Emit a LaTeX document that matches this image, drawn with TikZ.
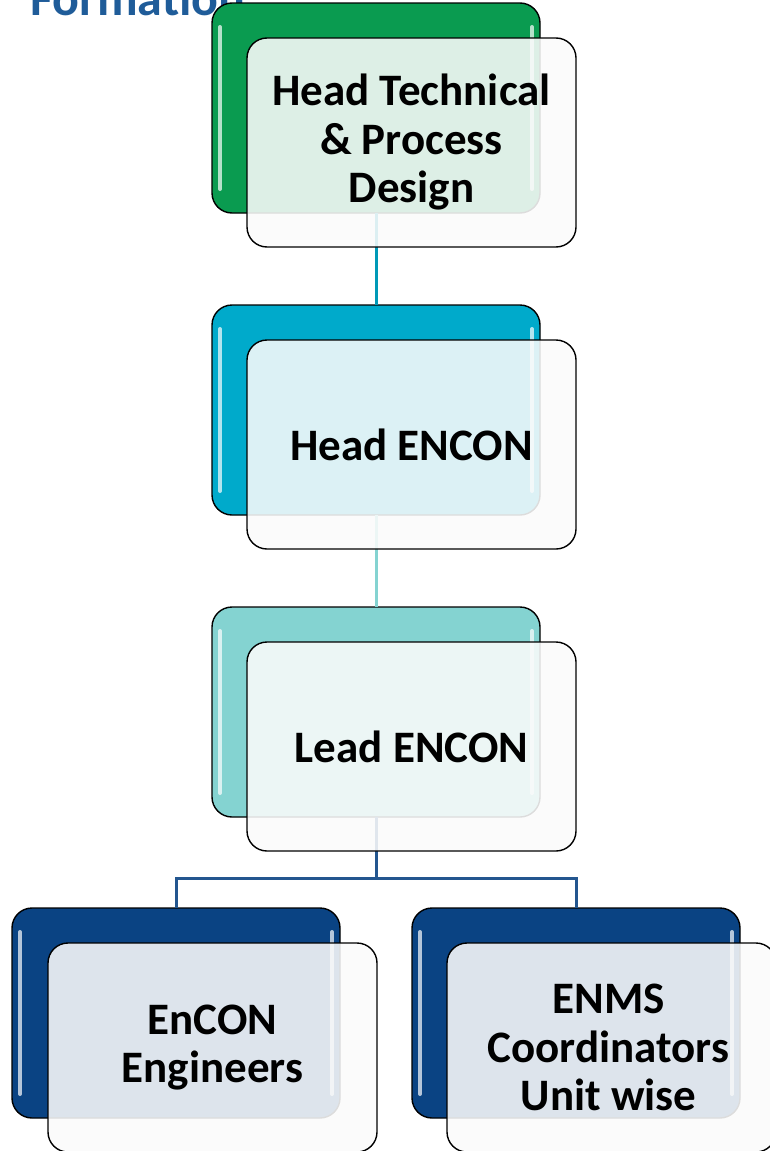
\documentclass[tikz,border=0pt]{standalone}
\usepackage{fontspec}
\setmainfont{Carlito}
\usetikzlibrary{calc}
\definecolor{cgreen}{HTML}{0A9B50}
\definecolor{ccyan}{HTML}{00AACB}
\definecolor{cteal}{HTML}{84D3D1}
\definecolor{cblue}{HTML}{0A4383}
\definecolor{ctitle}{HTML}{1F5C99}
\tikzset{
  backbox/.style={draw=black, line width=1.4pt, rounded corners=20pt, minimum width=328pt, minimum height=210pt, anchor=north west, inner sep=0pt, outer sep=0pt},
  frontbox/.style={draw=black, line width=1.4pt, rounded corners=20pt, fill=gray!3, fill opacity=0.88, draw opacity=1, text opacity=1, minimum width=329pt, minimum height=209pt, anchor=north west, inner sep=0pt, outer sep=0pt},
  labeltext/.style={font=\fontsize{45}{48.5}\selectfont\bfseries, align=center, text=black},
  shine/.style={white, opacity=0.7, line width=4pt, line cap=round},
  conn/.style={line width=3pt},
}
\begin{document}
\begin{tikzpicture}[x=1pt,y=-1pt]
\useasboundingbox (0,0) rectangle (770,1151);
\clip (0,0) rectangle (770,1151);
% title fragment (cut off at top)
\node[anchor=base west, inner sep=0pt, text=ctitle, font=\fontsize{50}{54}\selectfont\bfseries] (title) at (30,15) {Formation};
% back boxes
\node[backbox, fill=cgreen] (gb) at (212,3) {};
\node[backbox, fill=ccyan] (cb) at (212,305) {};
\node[backbox, fill=cteal] (tb) at (212,607) {};
\node[backbox, fill=cblue] (eb) at (12,908) {};
\node[backbox, fill=cblue] (nb) at (412,908) {};
% highlights
\foreach \b in {gb,cb,tb,eb,nb}{
  \draw[shine] ([shift={(8,24)}]\b.north west) -- ([shift={(8,-24)}]\b.south west);
  \draw[shine] ([shift={(-8,24)}]\b.north east) -- ([shift={(-8,-24)}]\b.south east);
}
% connectors
\coordinate (j) at (376,878);
\draw[conn, color=ccyan!90!black] (gb.south) -- (cb.north);
\draw[conn, color=cteal] (cb.south) -- (tb.north);
\draw[conn, color=cblue!90!white] (tb.south) -- (j);
\draw[conn, color=cblue!90!white] (j) -| (eb.north);
\draw[conn, color=cblue!90!white] (j) -| (nb.north);
% front boxes
\node[frontbox] (gf) at (247,38) {};
\node[labeltext] (gt) at (gf.center) {Head Technical\\\& Process\\Design};
\node[frontbox] (cf) at (247,340) {};
\node[labeltext] (ct) at (cf.center) {Head ENCON};
\node[frontbox] (tf) at (247,642) {};
\node[labeltext] (tt) at (tf.center) {Lead ENCON};
\node[frontbox] (ef) at (48,943) {};
\node[labeltext] (et) at (ef.center) {EnCON\\Engineers};
\node[frontbox] (nf) at (447,943) {};
\node[labeltext] (nt) at ([xshift=-3pt]nf.center) {ENMS\\Coordinators\\Unit wise};
\end{tikzpicture}
\end{document}
